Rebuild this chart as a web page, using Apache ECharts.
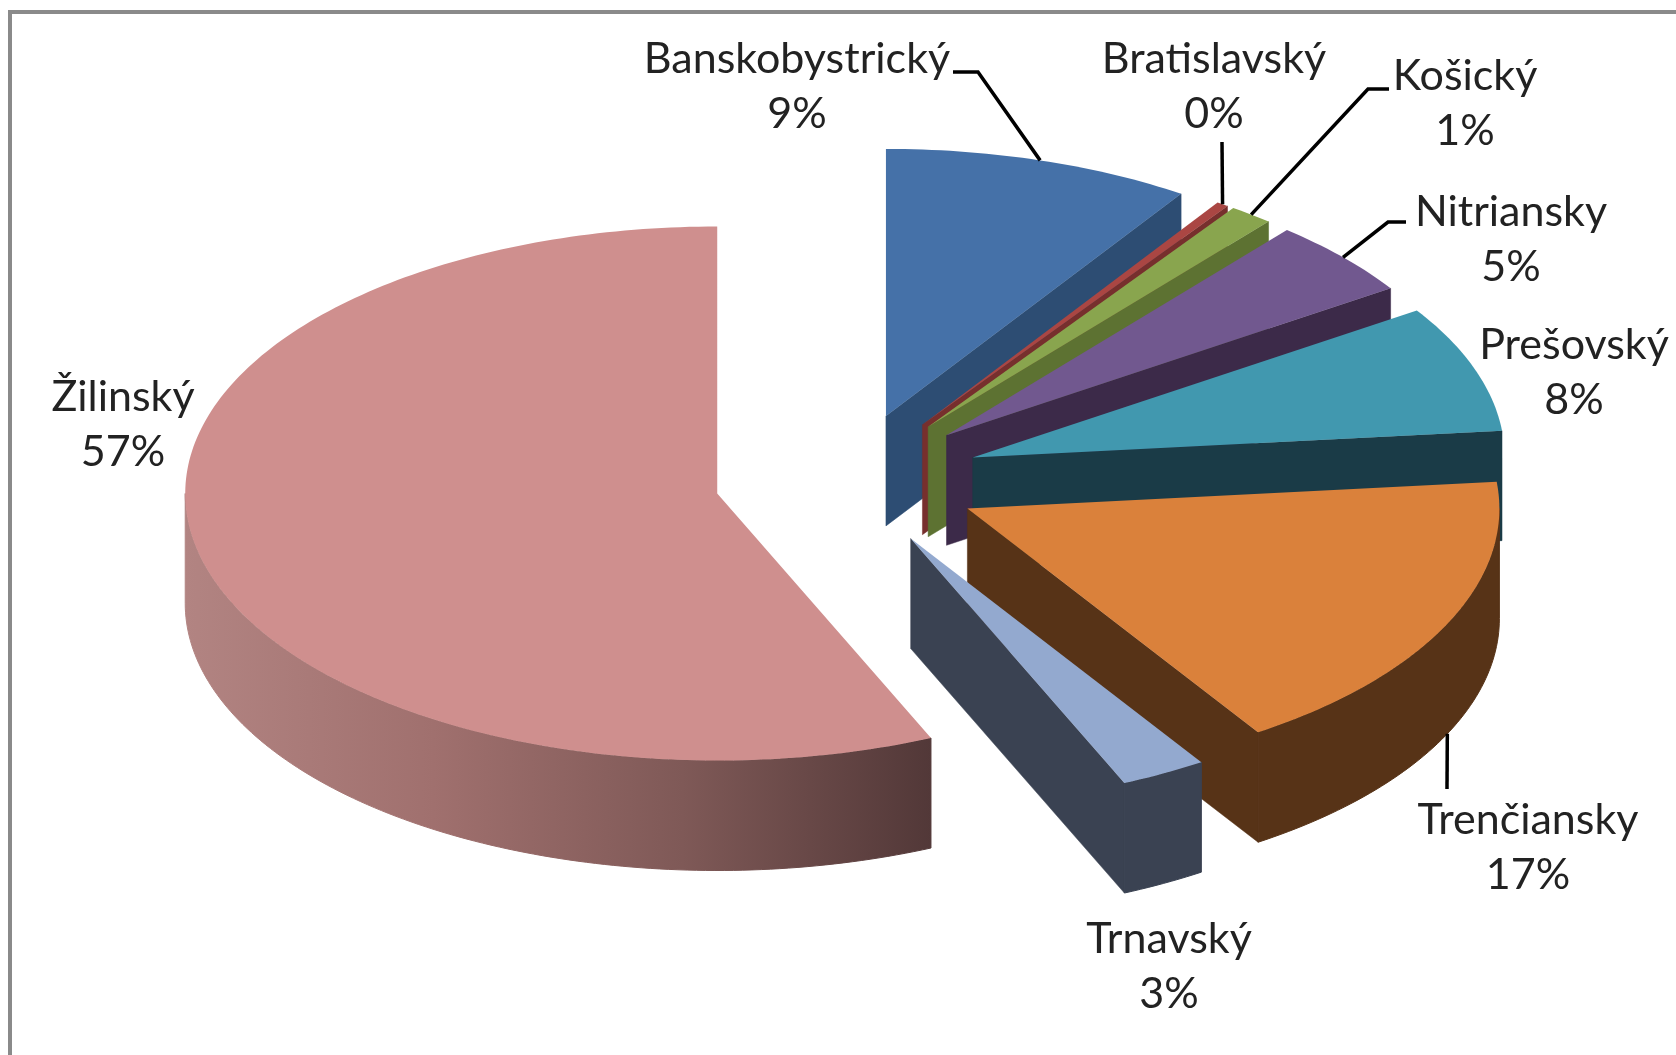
<!DOCTYPE html>
<html>
<head>
<meta charset="utf-8">
<title>Kraje</title>
<style>
  html, body { margin: 0; padding: 0; background: #fff; }
  #chart { width: 1676px; height: 1055px; }
</style>
<script src="https://cdn.jsdelivr.net/npm/echarts@6/dist/echarts.min.js"></script>
</head>
<body>
<div id="chart"></div>
<script>
// data, clockwise from 12 o'clock
var categories = ["Banskobystrický", "Bratislavský", "Košický", "Nitriansky", "Prešovský", "Trenčiansky", "Trnavský", "Žilinský"];
var shares = [9.36, 0.36, 1.33, 4.67, 7.68, 17.4, 2.62, 56.58];

// colours of the slices
var topColors = ["#4571A8", "#AA4643", "#89A54E", "#71588F", "#4198AF", "#DA813B", "#93A9CF", "#CF8F8E"];
var sideColors = ["#2D4D73", "#772F2D", "#5D7232", "#3C2A49", "#1A3B47", "#573317", "#3A4252", "#7D5856"];
var curvedSide = { 7: ["#B28482", "#A0706E", "#7F5957", "#523838"] };

// layout of the fake 3D pie
var pie = { cx: 847.4, cy: 479.8, rx: 532, ry: 267, depth: 110, explode: 0.25 };
var labelFont = { size: 43, family: "Lato", lineHeight: 55, color: "#222" };
var labelCenters = [[797, 87], [1214, 87], [1465, 104], [1511, 240], [1574, 373], [1528, 848], [1169, 967], [123, 425]];
var leaderElbows = [
  [[953, 72], [978, 72]],
  [[1222, 142]],
  [[1389, 89], [1368, 89]],
  [[1406, 222], [1388, 222]],
  null,
  [[1447, 789]],
  null,
  null
];

var total = shares.reduce(function (a, b) { return a + b; }, 0);

// start and end angle of slice i, in degrees clockwise from the top
function sliceAngles(i) {
  var before = 0;
  for (var k = 0; k < i; k++) before += shares[k];
  return [before / total * 360, (before + shares[i]) / total * 360];
}

function rad(d) { return d * Math.PI / 180; }

function sliceApex(i) {
  var a = sliceAngles(i);
  var mid = rad((a[0] + a[1]) / 2);
  return [
    pie.cx + pie.explode * pie.rx * Math.sin(mid),
    pie.cy - pie.explode * pie.ry * Math.cos(mid)
  ];
}

function rimPoint(apex, deg, drop) {
  return [apex[0] + pie.rx * Math.sin(rad(deg)), apex[1] - pie.ry * Math.cos(rad(deg)) + (drop || 0)];
}

function arcPoints(apex, from, to, drop) {
  var pts = [];
  var n = Math.max(2, Math.ceil((to - from) / 1));
  for (var k = 0; k <= n; k++) pts.push(rimPoint(apex, from + (to - from) * k / n, drop));
  return pts;
}

function wall(apex, deg, color) {
  var r = rimPoint(apex, deg);
  return {
    type: "polygon",
    shape: { points: [apex, r, [r[0], r[1] + pie.depth], [apex[0], apex[1] + pie.depth]] },
    style: { fill: color, stroke: color, lineWidth: 0.5 }
  };
}

function renderSlice(params) {
  var i = params.dataIndex;
  var a = sliceAngles(i);
  var apex = sliceApex(i);
  var side = sideColors[i];
  var children = [];

  // a flat cut is only seen when it faces the viewer
  if (Math.cos(rad(a[0] - 90)) < -1e-6) children.push(wall(apex, a[0], side));
  if (Math.cos(rad(a[1] + 90)) < -1e-6) children.push(wall(apex, a[1], side));

  // outer wall, front half only
  var from = Math.max(a[0], 90), to = Math.min(a[1], 270);
  if (from < to) {
    var fill = side;
    if (curvedSide[i]) {
      var c = curvedSide[i];
      fill = new echarts.graphic.LinearGradient(1, 0, 0, 0, c.map(function (col, k) {
        return { offset: 1 - k / (c.length - 1), color: col };
      }));
    }
    var rim = arcPoints(apex, from, to, 0).concat(arcPoints(apex, from, to, pie.depth).reverse());
    children.push({
      type: "polygon",
      shape: { points: rim },
      // thin stroke closes the seam against the flat cut
      style: { fill: fill, stroke: fill, lineWidth: 1 }
    });
  }

  children.push({
    type: "polygon",
    shape: { points: [apex].concat(arcPoints(apex, a[0], a[1], 0)) },
    style: { fill: topColors[i] }
  });
  return { type: "group", children: children };
}

function renderLabel(params, api) {
  var i = params.dataIndex;
  var a = sliceAngles(i);
  var children = [];
  var elbow = leaderElbows[i];
  if (elbow) {
    var mid = (a[0] + a[1]) / 2;
    // leader starts on the rim, at the bottom of the wall on the front half
    var start = rimPoint(sliceApex(i), mid, mid > 90 && mid < 270 ? pie.depth : 0);
    children.push({
      type: "polyline",
      shape: { points: elbow.concat([start]) },
      style: { stroke: "#000", lineWidth: 3.5, fill: null }
    });
  }
  var c = labelCenters[i];
  children.push({
    type: "text",
    style: {
      text: categories[i] + "\n" + Math.round(api.value(0)) + "%",
      x: c[0],
      y: c[1],
      align: "center",
      verticalAlign: "middle",
      fill: labelFont.color,
      fontFamily: labelFont.family,
      fontSize: labelFont.size,
      lineHeight: labelFont.lineHeight
    }
  });
  return { type: "group", children: children };
}

var myChart = echarts.init(document.getElementById("chart"), null, { renderer: "canvas" });
var option = {
  backgroundColor: "#fff",
  animation: false,
  // chart frame, runs off the right and bottom of the picture
  graphic: [
    { type: "rect", silent: true, z: 0, shape: { x: 8, y: 10, width: 1668, height: 4 }, style: { fill: "#8A8A8A" } },
    { type: "rect", silent: true, z: 0, shape: { x: 8, y: 10, width: 4, height: 1045 }, style: { fill: "#8A8A8A" } }
  ],
  series: [
    {
      type: "custom",
      coordinateSystem: "none",
      silent: true,
      z: 2,
      renderItem: renderSlice,
      data: shares.map(function (v) { return [v]; })
    },
    {
      type: "custom",
      coordinateSystem: "none",
      silent: true,
      z: 3,
      renderItem: renderLabel,
      data: shares.map(function (v) { return [v]; })
    }
  ]
};
myChart.setOption(option);
window.addEventListener("resize", function () {
  myChart.resize();
});
</script>
</body>
</html>
